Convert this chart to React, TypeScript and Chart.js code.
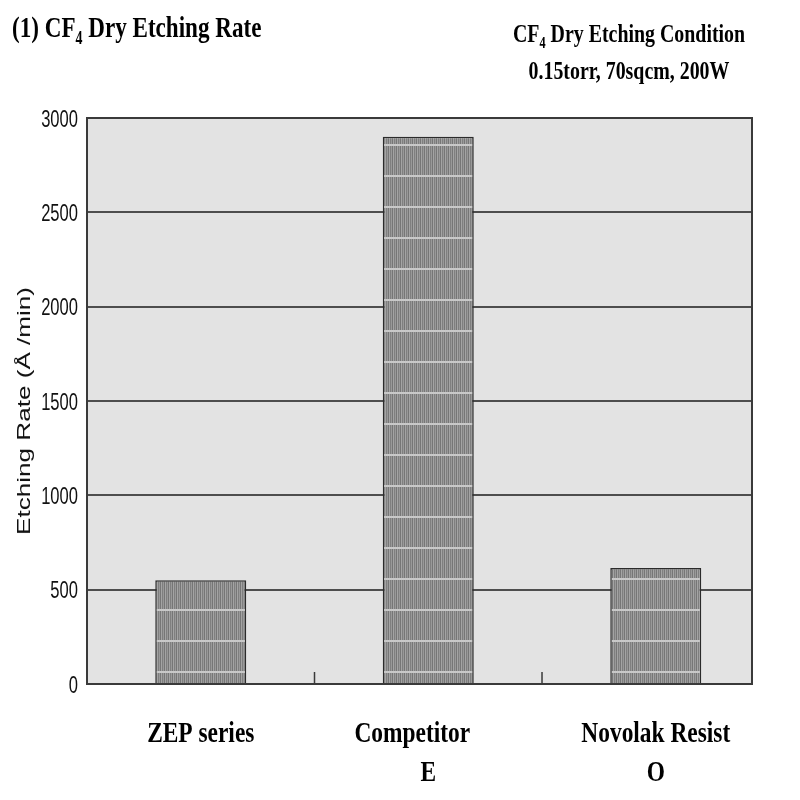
import React, { useEffect, useRef } from "react";
import { Chart, registerables } from "chart.js";

Chart.register(...registerables);

const categoryLines: string[][] = [["ZEP series"], ["Competitor", "E"], ["Novolak Resist", "O"]];
const categoryPositions: number[] = [0.5, 1.5, 2.5];
const etchRates: number[] = [550, 2900, 615];
const yTicks: number[] = [0, 500, 1000, 1500, 2000, 2500, 3000];
const yTitle = "Etching Rate  (Å /min)";

// horizontal nudges (px) of each label line, as laid out in the original
const labelNudge: number[][] = [[0], [-16, 0], [0, 0]];

function makePattern(): CanvasPattern | string {
  const pc = document.createElement("canvas");
  pc.width = 4;
  pc.height = 31;
  const c = pc.getContext("2d");
  if (!c) return "#8a8a8a";
  const cols = ["#767676", "#a4a4a4", "#7f7f7f", "#999999"];
  for (let i = 0; i < 4; i++) {
    c.fillStyle = cols[i];
    c.fillRect(i, 0, 1, 31);
  }
  c.fillStyle = "#c8c8c8";
  c.fillRect(0, 20, 4, 2);
  const p = c.createPattern(pc, "repeat");
  return p || "#8a8a8a";
}

const framePlugin = {
  id: "frame",
  beforeDraw(chart: any) {
    const { ctx, chartArea } = chart;
    ctx.save();
    ctx.fillStyle = "#e3e3e3";
    ctx.fillRect(chartArea.left, chartArea.top, chartArea.right - chartArea.left, chartArea.bottom - chartArea.top);
    ctx.restore();
  },
  afterDraw(chart: any) {
    const { ctx, chartArea } = chart;
    const xs = chart.scales.x;
    const ys = chart.scales.y;
    ctx.save();
    ctx.strokeStyle = "#3a3a3a";
    ctx.lineWidth = 2;
    ctx.strokeRect(chartArea.left, chartArea.top, chartArea.right - chartArea.left, chartArea.bottom - chartArea.top);
    // small boundary ticks between categories
    ctx.lineWidth = 1.5;
    ctx.beginPath();
    for (let i = 1; i < categoryLines.length; i++) {
      const bx = xs.getPixelForValue(i);
      ctx.moveTo(bx, chartArea.bottom);
      ctx.lineTo(bx, chartArea.bottom - 12);
    }
    ctx.stroke();

    // y tick labels (tall, condensed sans)
    ctx.fillStyle = "#111";
    ctx.font = "24px 'Liberation Sans', Arial, sans-serif";
    ctx.textAlign = "right";
    ctx.textBaseline = "alphabetic";
    for (const v of yTicks) {
      const py = ys.getPixelForValue(v);
      ctx.save();
      ctx.translate(chartArea.left - 9, py + 8.5);
      ctx.scale(0.69, 1);
      ctx.fillText(String(v), 0, 0);
      ctx.restore();
    }

    // x category labels (tall, condensed bold serif)
    ctx.fillStyle = "#000";
    ctx.font = "bold 30px 'Liberation Serif', 'Times New Roman', serif";
    ctx.textAlign = "center";
    categoryLines.forEach((lines, i) => {
      const px = xs.getPixelForValue(categoryPositions[i]);
      lines.forEach((line, j) => {
        ctx.save();
        ctx.translate(px + (labelNudge[i]?.[j] ?? 0), chartArea.bottom + 58 + j * 39);
        ctx.scale(0.78, 1);
        ctx.fillText(line, 0, 0);
        ctx.restore();
      });
    });
    ctx.restore();
  },
};

export default function App() {
  const ref = useRef<HTMLCanvasElement | null>(null);
  useEffect(() => {
    if (!ref.current) return;
    const chart = new Chart(ref.current, {
      type: "bar",
      data: {
        datasets: [
          {
            data: categoryPositions.map((x, i) => ({ x, y: etchRates[i] })),
            backgroundColor: makePattern() as any,
            borderColor: "#2b2b2b",
            borderWidth: 1.5,
            barPercentage: 0.4,
            categoryPercentage: 1,
          },
        ],
      },
      options: {
        animation: false,
        responsive: false,
        maintainAspectRatio: false,
        layout: { padding: { top: 118, right: 48, left: 0, bottom: 0 } },
        plugins: { legend: { display: false }, tooltip: { enabled: false } },
        scales: {
          y: {
            min: 0,
            max: 3000,
            afterBuildTicks: (s: any) => {
              s.ticks = yTicks.map((v) => ({ value: v }));
            },
            afterFit: (s: any) => {
              s.width = 87;
            },
            ticks: { display: false },
            grid: { color: "#4e4e4e", lineWidth: 2, drawTicks: false },
            border: { display: true, color: "#333", width: 2 },
          },
          x: {
            type: "linear",
            min: 0,
            max: 2.923,
            offset: false,
            afterBuildTicks: (s: any) => {
              s.ticks = categoryPositions.map((v) => ({ value: v }));
            },
            afterFit: (s: any) => {
              s.height = 116;
            },
            grid: { display: false, offset: false },
            border: { display: true, color: "#333", width: 2 },
            ticks: { display: false },
          },
        },
      } as any,
      plugins: [framePlugin],
    });
    return () => chart.destroy();
  }, []);

  const serif = "'Liberation Serif', 'Times New Roman', serif";
  return (
    <div style={{ position: "absolute", left: 0, top: 0, width: 800, height: 800, background: "#fff", overflow: "hidden" }}>
      <canvas ref={ref} width={800} height={800} style={{ position: "absolute", left: 0, top: 0, width: 800, height: 800 }} />
      <div
        style={{
          position: "absolute",
          left: 12,
          top: 10,
          fontFamily: serif,
          fontWeight: "bold",
          fontSize: 30,
          whiteSpace: "nowrap",
          transform: "scaleX(0.77)",
          transformOrigin: "left top",
          color: "#000",
        }}
      >
        (1) CF<sub style={{ fontSize: 18 }}>4</sub> Dry Etching Rate
      </div>
      <div
        style={{
          position: "absolute",
          left: 629,
          top: 18,
          width: 0,
          fontFamily: serif,
          fontWeight: "bold",
          fontSize: 26,
          whiteSpace: "nowrap",
          color: "#000",
        }}
      >
        <div style={{ position: "absolute", left: 0, top: 0, transform: "translateX(-50%) scaleX(0.765)", lineHeight: "32px" }}>
          CF<sub style={{ fontSize: 16 }}>4</sub> Dry Etching Condition
        </div>
        <div style={{ position: "absolute", left: 0, top: 37, transform: "translateX(-50%) scaleX(0.765)", lineHeight: "32px" }}>
          0.15torr, 70sqcm, 200W
        </div>
      </div>
      <div
        style={{
          position: "absolute",
          left: 24,
          top: 411,
          fontFamily: "'Liberation Sans', Arial, sans-serif",
          fontSize: 18,
          whiteSpace: "nowrap",
          color: "#111",
          lineHeight: "20px",
          transform: "translate(-50%, -50%) rotate(-90deg) scaleX(1.45)",
        }}
      >
        {yTitle}
      </div>
    </div>
  );
}
